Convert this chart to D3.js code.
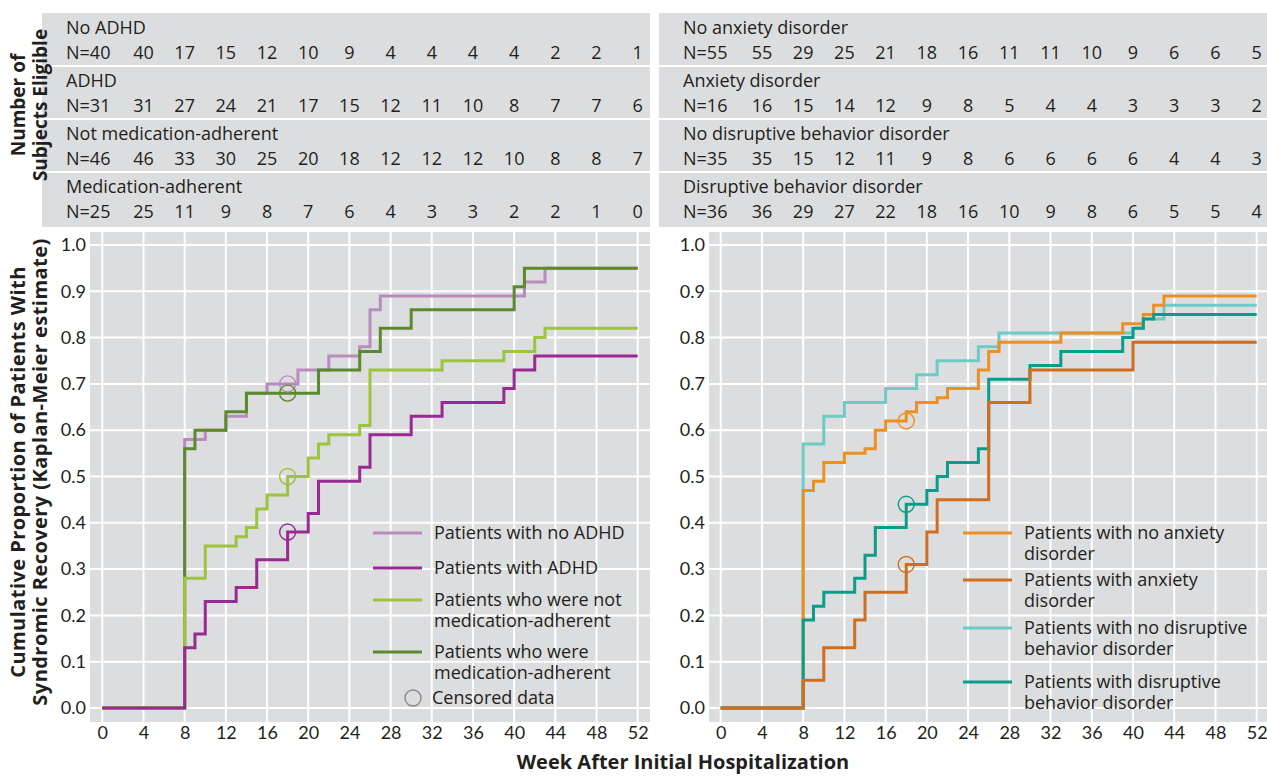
<!DOCTYPE html>
<html>
<head>
<meta charset="utf-8">
<script src="https://cdn.jsdelivr.net/npm/d3@7"></script>
<style>
  body { margin: 0; background: #fff; }
  text { font-family: "Open Sans", Lato, sans-serif; fill: #231f20; }
</style>
</head>
<body>
<svg id="chart" width="1267" height="776"></svg>
<script>
// table: number of subjects eligible at weeks 0 (N=), 4, 8, ... 52
var leftRows = [
  { label: 'No ADHD', n: 40, counts: [40, 17, 15, 12, 10, 9, 4, 4, 4, 4, 2, 2, 1] },
  { label: 'ADHD', n: 31, counts: [31, 27, 24, 21, 17, 15, 12, 11, 10, 8, 7, 7, 6] },
  { label: 'Not medication-adherent', n: 46, counts: [46, 33, 30, 25, 20, 18, 12, 12, 12, 10, 8, 8, 7] },
  { label: 'Medication-adherent', n: 25, counts: [25, 11, 9, 8, 7, 6, 4, 3, 3, 2, 2, 1, 0] }
];
var rightRows = [
  { label: 'No anxiety disorder', n: 55, counts: [55, 29, 25, 21, 18, 16, 11, 11, 10, 9, 6, 6, 5] },
  { label: 'Anxiety disorder', n: 16, counts: [16, 15, 14, 12, 9, 8, 5, 4, 4, 3, 3, 3, 2] },
  { label: 'No disruptive behavior disorder', n: 35, counts: [35, 15, 12, 11, 9, 8, 6, 6, 6, 6, 4, 4, 3] },
  { label: 'Disruptive behavior disorder', n: 36, counts: [36, 29, 27, 22, 18, 16, 10, 9, 8, 6, 5, 5, 4] }
];

// Kaplan-Meier steps: [week, cumulative proportion]
var noAdhd = [[8, 0.58], [10, 0.60], [12, 0.63], [14, 0.68], [16, 0.70], [19, 0.73], [22, 0.76], [25, 0.78], [26, 0.86], [27, 0.89], [41, 0.92], [43, 0.95]];
var adhd = [[8, 0.13], [9, 0.16], [10, 0.23], [13, 0.26], [15, 0.32], [18, 0.38], [20, 0.42], [21, 0.49], [25, 0.52], [26, 0.59], [30, 0.63], [33, 0.66], [39, 0.69], [40, 0.73], [42, 0.76]];
var notAdherent = [[8, 0.28], [10, 0.35], [13, 0.37], [14, 0.39], [15, 0.43], [16, 0.46], [18, 0.50], [20, 0.54], [21, 0.57], [22, 0.59], [25, 0.61], [26, 0.73], [33, 0.75], [39, 0.77], [42, 0.80], [43, 0.82]];
var adherent = [[8, 0.56], [9, 0.60], [12, 0.64], [14, 0.68], [21, 0.73], [25, 0.77], [27, 0.82], [30, 0.86], [40, 0.91], [41, 0.95]];

var noAnxiety = [[8, 0.47], [9, 0.49], [10, 0.53], [12, 0.55], [14, 0.56], [15, 0.60], [16, 0.62], [18, 0.64], [19, 0.66], [21, 0.67], [22, 0.69], [25, 0.73], [26, 0.77], [27, 0.79], [33, 0.81], [39, 0.83], [41, 0.85], [42, 0.87], [43, 0.89]];
var anxiety = [[8, 0.06], [10, 0.13], [13, 0.19], [14, 0.25], [18, 0.31], [20, 0.38], [21, 0.45], [26, 0.66], [30, 0.73], [40, 0.79]];
var noDbd = [[8, 0.57], [10, 0.63], [12, 0.66], [16, 0.69], [19, 0.72], [21, 0.75], [25, 0.78], [27, 0.81], [40, 0.82], [41, 0.84], [43, 0.87]];
var dbd = [[8, 0.19], [9, 0.22], [10, 0.25], [13, 0.28], [14, 0.33], [15, 0.39], [18, 0.44], [20, 0.47], [21, 0.50], [22, 0.53], [25, 0.56], [26, 0.71], [30, 0.74], [33, 0.77], [39, 0.80], [40, 0.82], [41, 0.84], [42, 0.85]];

var censorWeek = 18;
var leftCensor = [0.70, 0.68, 0.50, 0.38];
var rightCensor = [0.62, 0.44, 0.31];

var weekTicks = d3.range(0, 53, 4);
var yTicks = d3.range(0, 1.01, 0.1);

var svg = d3.select('#chart');
var bg = '#dcdddf';

var y = d3.scaleLinear().domain([0, 1]).range([708, 245]);

function drawPanel(opt) {
  var x = d3.scaleLinear().domain([0, 52]).range(opt.xr);
  var g = svg.append('g');

  // table
  g.append('rect')
    .attr('x', opt.tableX).attr('y', 13)
    .attr('width', opt.panelR - opt.tableX).attr('height', 214)
    .attr('fill', bg);
  opt.rows.forEach(function(r, i) {
    var top = 13 + i * 53;
    if (i > 0) {
      g.append('line')
        .attr('x1', opt.tableX).attr('x2', opt.panelR)
        .attr('y1', top).attr('y2', top)
        .attr('stroke', '#fff').attr('stroke-width', 2);
    }
    g.append('text')
      .attr('x', opt.labelX).attr('y', top + 21)
      .attr('font-size', 18)
      .text(r.label);
    g.append('text')
      .attr('x', opt.labelX).attr('y', top + 46)
      .attr('font-size', 18)
      .text('N=' + r.n);
    g.selectAll(null)
      .data(r.counts)
      .enter()
      .append('text')
        .attr('x', function(d, j) { return x(weekTicks[j + 1]); })
        .attr('y', top + 46)
        .attr('text-anchor', 'middle')
        .attr('font-size', 18)
        .text(function(d) { return d; });
  });

  // plot background and grid
  g.append('rect')
    .attr('x', opt.panelL).attr('y', 232)
    .attr('width', opt.panelR - opt.panelL).attr('height', 490)
    .attr('fill', bg);
  g.selectAll(null).data(weekTicks).enter().append('line')
    .attr('x1', function(d) { return x(d); })
    .attr('x2', function(d) { return x(d); })
    .attr('y1', 232).attr('y2', 722)
    .attr('stroke', '#fff').attr('stroke-width', 2);
  g.selectAll(null).data(yTicks).enter().append('line')
    .attr('x1', opt.panelL).attr('x2', opt.panelR)
    .attr('y1', function(d) { return y(d); })
    .attr('y2', function(d) { return y(d); })
    .attr('stroke', '#fff').attr('stroke-width', 2);

  // axes (labels only)
  var xAxis = g.append('g')
    .attr('transform', 'translate(0,722)')
    .call(d3.axisBottom(x).tickValues(weekTicks).tickSize(0).tickPadding(4));
  xAxis.select('.domain').remove();
  xAxis.selectAll('text').attr('font-size', 18).style('font-family', 'Lato, sans-serif').style('fill', '#231f20');

  var yAxis = g.append('g')
    .attr('transform', 'translate(' + opt.panelL + ',0)')
    .call(d3.axisLeft(y).tickValues(yTicks).tickFormat(d3.format('.1f')).tickSize(0).tickPadding(4));
  yAxis.select('.domain').remove();
  yAxis.selectAll('text').attr('font-size', 18).style('font-family', 'Lato, sans-serif').style('fill', '#231f20');

  // curves
  var line = d3.line()
    .x(function(d) { return x(d[0]); })
    .y(function(d) { return y(d[1]); })
    .curve(d3.curveStepAfter);
  opt.series.forEach(function(s) {
    var pts = [[0, 0]].concat(s.data);
    pts.push([52, s.data[s.data.length - 1][1]]);
    g.append('path')
      .datum(pts)
      .attr('d', line)
      .attr('fill', 'none')
      .attr('stroke', s.color)
      .attr('stroke-width', 3);
  });

  // censored points
  g.selectAll(null).data(opt.censor).enter().append('circle')
    .attr('cx', x(censorWeek))
    .attr('cy', function(d) { return y(d.v); })
    .attr('r', 8)
    .attr('fill', 'none')
    .attr('stroke', function(d) { return d.color; })
    .attr('stroke-width', 1.4);

  // legend (one text element per entry, wrapped with tspans)
  opt.legend.forEach(function(l) {
    g.append('line')
      .attr('x1', opt.legX).attr('x2', opt.legX + 49)
      .attr('y1', l.y).attr('y2', l.y)
      .attr('stroke', l.color).attr('stroke-width', 3);
    var t = g.append('text')
      .attr('x', opt.legX + 61).attr('y', l.y + 6)
      .attr('font-size', 18);
    l.lines.forEach(function(s, k) {
      t.append('tspan')
        .attr('x', opt.legX + 61)
        .attr('dy', k === 0 ? 0 : 21)
        .text(s);
    });
  });
}

var c = {
  noAdhd: '#b98bbf', adhd: '#9a2a93', notAdh: '#9dc43d', adh: '#5b8a2d',
  noAnx: '#ec9022', anx: '#cf6e1f', noDbd: '#6ccbc4', dbd: '#0c9c8b'
};

drawPanel({
  xr: [102.3, 637.7], panelL: 90, panelR: 650, tableX: 42, labelX: 66,
  rows: leftRows,
  series: [
    { data: noAdhd, color: c.noAdhd },
    { data: adherent, color: c.adh },
    { data: notAdherent, color: c.notAdh },
    { data: adhd, color: c.adhd }
  ],
  censor: [
    { v: leftCensor[0], color: c.noAdhd },
    { v: leftCensor[1], color: c.adh },
    { v: leftCensor[2], color: c.notAdh },
    { v: leftCensor[3], color: c.adhd }
  ],
  legX: 373,
  legend: [
    { y: 533, color: c.noAdhd, lines: ['Patients with no ADHD'] },
    { y: 568, color: c.adhd, lines: ['Patients with ADHD'] },
    { y: 600, color: c.notAdh, lines: ['Patients who were not', 'medication-adherent'] },
    { y: 652, color: c.adh, lines: ['Patients who were', 'medication-adherent'] }
  ]
});

drawPanel({
  xr: [720.7, 1256.7], panelL: 709, panelR: 1267, tableX: 659, labelX: 683,
  rows: rightRows,
  series: [
    { data: noDbd, color: c.noDbd },
    { data: noAnxiety, color: c.noAnx },
    { data: dbd, color: c.dbd },
    { data: anxiety, color: c.anx }
  ],
  censor: [
    { v: rightCensor[0], color: c.noAnx },
    { v: rightCensor[1], color: c.dbd },
    { v: rightCensor[2], color: c.anx }
  ],
  legX: 963,
  legend: [
    { y: 533, color: c.noAnx, lines: ['Patients with no anxiety', 'disorder'] },
    { y: 580, color: c.anx, lines: ['Patients with anxiety', 'disorder'] },
    { y: 628, color: c.noDbd, lines: ['Patients with no disruptive', 'behavior disorder'] },
    { y: 682, color: c.dbd, lines: ['Patients with disruptive', 'behavior disorder'] }
  ]
});

// censored data legend entry
svg.append('circle')
  .attr('cx', 413).attr('cy', 698).attr('r', 8)
  .attr('fill', 'none').attr('stroke', '#8a8a8a').attr('stroke-width', 1.4);
svg.append('text')
  .attr('x', 432).attr('y', 704).attr('font-size', 18)
  .text('Censored data');

// axis titles
function vTitle(lines, cy, size, spacing) {
  lines.forEach(function(t, i) {
    svg.append('text')
      .attr('transform', 'translate(' + (25 + i * 22) + ',' + cy + ') rotate(-90)')
      .attr('text-anchor', 'middle')
      .attr('font-size', size)
      .attr('font-weight', 'bold')
      .attr('letter-spacing', spacing)
      .text(t);
  });
}
vTitle(['Number of', 'Subjects Eligible'], 105, 19, 0);
vTitle(['Cumulative Proportion of Patients With', 'Syndromic Recovery (Kaplan-Meier estimate)'], 472, 20, 0.45);

svg.append('text')
  .attr('x', 683).attr('y', 769)
  .attr('text-anchor', 'middle')
  .attr('font-size', 20)
  .attr('font-weight', 'bold')
  .text('Week After Initial Hospitalization');
</script>
</body>
</html>
